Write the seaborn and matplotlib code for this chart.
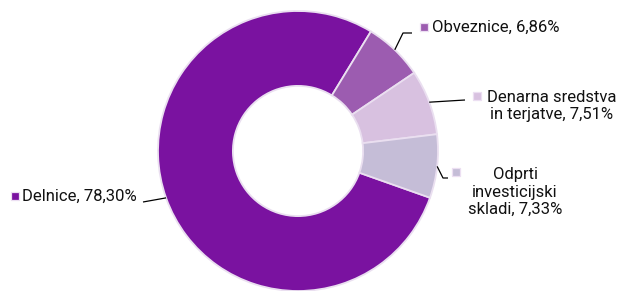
import numpy as np
import matplotlib
matplotlib.use("Agg")
import matplotlib.pyplot as plt
import seaborn as sns

# -- data
labels = ["Delnice, 78,30%", "Obveznice, 6,86%", "Denarna sredstva\nin terjatve, 7,51%",
          "Odprti\ninvesticijski\nskladi, 7,33%"]
shares = [78.30, 6.86, 7.51, 7.33]
colors = ["#7a12a0", "#9c5cb0", "#d8c1e0", "#c5bdd7"]

sns.set_theme(style="white")
plt.rcParams['font.family'] = ['Roboto', 'DejaVu Sans']

W, H = 618, 291
fig = plt.figure(figsize=(W / 100, H / 100), dpi=100)
ax = fig.add_axes([0, 0, 1, 1])

cx, cy, R = 298, H - 151, 140
start = -19.5
wedges, _ = ax.pie(shares, colors=colors, startangle=start, counterclock=False,
                   center=(cx, cy), radius=R, frame=True,
                   wedgeprops=dict(width=R * 0.535, edgecolor="#eadff0", linewidth=1.3))
ax.set_xlim(0, W)
ax.set_ylim(0, H)
ax.set_aspect("equal")
ax.axis("off")

# -- leader lines from wedge mid-angles, label layout in pixel space
def edge_pt(w):
    a = np.deg2rad((w.theta1 + w.theta2) / 2)
    return cx + R * np.cos(a), cy + R * np.sin(a)

# (bend points, marker pos, text pos, text ha)
layout = [
    ([(143, H - 202)], (15, H - 196), (22, H - 196), "left"),
    ([(403, H - 33), (412, H - 33)], (424, H - 27), (432, H - 27), "left"),
    ([(465, H - 100)], (477, H - 96), (552, H - 106), "center"),
    ([(443, H - 178), (448, H - 178)], (456, H - 172), (515, H - 192), "center"),
]

for w, lab, col, (pts, mpos, tpos, ha) in zip(wedges, labels, colors, layout):
    x0, y0 = edge_pt(w)
    xs = [x0] + [p[0] for p in pts]
    ys = [y0] + [p[1] for p in pts]
    ax.plot(xs, ys, color="black", lw=0.9, solid_capstyle="butt")
    ax.scatter([mpos[0]], [mpos[1]], marker="s", s=36, color=col,
               edgecolor="#ecdff2", linewidth=0.9, zorder=5)
    ax.text(tpos[0], tpos[1], lab, ha=ha, va="center", fontsize=12,
            color="#111111", linespacing=1.2, multialignment="center")

fig.savefig("out.png", dpi=100)
